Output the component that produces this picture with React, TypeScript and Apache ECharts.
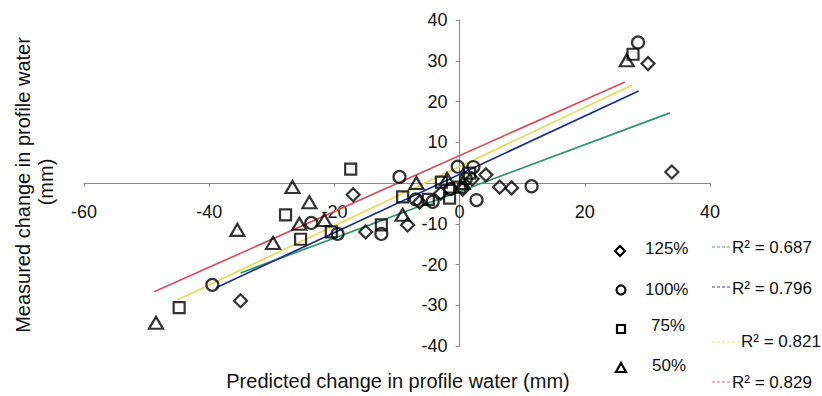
import React, { useEffect, useRef } from "react";
import * as echarts from "echarts";

const FONT = '"Liberation Sans", Arial, Helvetica, sans-serif';

// Predicted (x) vs measured (y) change in profile water, mm
const pct125: [number, number][] = [
  [33.9, 2.7], [30.1, 29.3], [-35.0, -28.9], [-17.0, -2.9], [-15.0, -12.0],
  [-8.3, -10.3], [-6.4, -4.7], [6.4, -1.0], [8.3, -1.2], [4.2, 2.0],
  [0.5, -1.5], [-3.0, -2.5], [2.0, 1.0],
];
const pct100: [number, number][] = [
  [28.5, 34.5], [-39.5, -25.0], [-9.6, 1.5], [11.5, -0.8], [2.7, -4.2],
  [-0.3, 4.0], [2.2, 3.9], [-23.7, -9.8], [-12.5, -12.5], [-4.3, -4.6],
  [-1.5, -1.5], [1.0, 1.0], [-19.5, -12.5], [-7.0, -4.0],
];
const pct75: [number, number][] = [
  [27.7, 31.6], [-44.8, -30.6], [-17.4, 3.4], [-27.8, -7.8], [-25.4, -13.8],
  [-12.5, -10.3], [-9.1, -3.4], [-2.9, 0.2], [-1.6, -3.7], [1.6, 2.4],
  [-5.0, -4.0], [0.0, -1.0], [-20.5, -12.0],
];
const pct50: [number, number][] = [
  [26.7, 30.1], [-48.5, -34.3], [-35.5, -11.5], [-26.7, -1.0], [-24.0, -4.7],
  [-29.8, -14.7], [-21.6, -9.1], [-25.6, -10.0], [-6.9, 0.0], [-9.1, -7.8],
  [-2.0, 1.0], [0.5, 0.0],
];

// Trendline end points
const trend125: [number, number][] = [[-35.0, -22.1], [33.6, 17.2]];
const trend100: [number, number][] = [[-38.9, -25.7], [28.6, 22.6]];
const trend75: [number, number][] = [[-45.1, -28.7], [27.5, 24.0]];
const trend50: [number, number][] = [[-48.8, -26.7], [26.4, 24.8]];

const seriesNames = ["125%", "100%", "75%", "50%"];
const r2Labels = ["R\u00B2 = 0.687", "R\u00B2 = 0.796", "R\u00B2 = 0.821", "R\u00B2 = 0.829"];
const trendColors = ["#2f9466", "#1c2f86", "#e4dc55", "#d9505c"];

const xTitle = "Predicted change in profile water (mm)";
const yTitle1 = "Measured change in profile water";
const yTitle2 = "(mm)";

const X_MIN = -60, X_MAX = 40, Y_MIN = -40, Y_MAX = 40;
const GRID = { left: 84, right: 112, top: 20, bottom: 50 };
const W = 822, H = 396;

export default function App() {
  const ref = useRef<HTMLDivElement>(null);

  useEffect(() => {
    if (!ref.current) return;
    const chart = echarts.init(ref.current, undefined, { renderer: "svg" });

    const gw = W - GRID.left - GRID.right;
    const gh = H - GRID.top - GRID.bottom;
    // move axes so they cross at the origin
    const xAxisOffset = -gh * (0 - Y_MIN) / (Y_MAX - Y_MIN);
    const yAxisOffset = -gw * (0 - X_MIN) / (X_MAX - X_MIN);

    const markerStyle = {
      color: "rgba(0,0,0,0)",
      borderColor: "#000",
      borderWidth: 2.2,
    };
    const scatter = (name: string, data: [number, number][], symbol: string, size: any) => ({
      name,
      type: "scatter",
      data,
      symbol,
      symbolSize: size,
      itemStyle: markerStyle,
      z: 3,
    });
    const trend = (name: string, data: [number, number][], color: string) => ({
      name,
      type: "line",
      data,
      showSymbol: false,
      symbol: "none",
      silent: true,
      lineStyle: { color, width: 1.7 },
      z: 2,
    });

    const ink = { stroke: "#000", lineWidth: 2.2, fill: "none" };
    const legendText = (text: string, x: number, y: number) => ({
      type: "text",
      x,
      y,
      style: {
        text,
        font: `17px ${FONT}`,
        fill: "#111",
        textAlign: "left",
        textVerticalAlign: "middle",
      },
    });
    const legendLine = (x1: number, x2: number, y: number, color: string) => ({
      type: "line",
      shape: { x1, y1: y, x2, y2: y },
      style: { stroke: color, lineWidth: 1.5, lineDash: [3, 2], opacity: 0.6 },
    });

    chart.setOption({
      animation: false,
      backgroundColor: "#fff",
      grid: { ...GRID, containLabel: false },
      xAxis: {
        type: "value",
        min: X_MIN,
        max: X_MAX,
        interval: 20,
        position: "bottom",
        offset: xAxisOffset,
        axisLine: { onZero: false, lineStyle: { color: "#8a8a8a", width: 1 } },
        axisTick: { show: true, length: 4, lineStyle: { color: "#8a8a8a" } },
        splitLine: { show: false },
        axisLabel: { fontSize: 18, color: "#111", fontFamily: FONT, margin: 20 },
      },
      yAxis: {
        type: "value",
        min: Y_MIN,
        max: Y_MAX,
        interval: 10,
        position: "left",
        offset: yAxisOffset,
        axisLine: { onZero: false, lineStyle: { color: "#8a8a8a", width: 1 } },
        axisTick: { show: true, length: 4, lineStyle: { color: "#8a8a8a" } },
        splitLine: { show: false },
        axisLabel: {
          fontSize: 18,
          color: "#111",
          fontFamily: FONT,
          margin: 12,
          formatter: (v: number) => (v === 0 ? "" : String(v)),
        },
      },
      series: [
        trend(r2Labels[0], trend125, trendColors[0]),
        trend(r2Labels[1], trend100, trendColors[1]),
        trend(r2Labels[2], trend75, trendColors[2]),
        trend(r2Labels[3], trend50, trendColors[3]),
        scatter(seriesNames[0], pct125, "diamond", 13),
        scatter(seriesNames[1], pct100, "circle", 12),
        scatter(seriesNames[2], pct75, "rect", 11),
        scatter(seriesNames[3], pct50, "triangle", [14, 12]),
      ],
      graphic: [
        {
          type: "text",
          x: 398,
          y: 381,
          style: {
            text: xTitle,
            font: `20px ${FONT}`,
            fill: "#111",
            textAlign: "center",
            textVerticalAlign: "middle",
          },
        },
        {
          type: "text",
          x: 23,
          y: 185,
          rotation: Math.PI / 2,
          style: {
            text: yTitle1,
            font: `20px ${FONT}`,
            fill: "#111",
            textAlign: "center",
            textVerticalAlign: "middle",
          },
        },
        {
          type: "text",
          x: 46,
          y: 182,
          rotation: Math.PI / 2,
          style: {
            text: yTitle2,
            font: `20px ${FONT}`,
            fill: "#111",
            textAlign: "center",
            textVerticalAlign: "middle",
          },
        },
        // legend icons for markers
        { type: "polygon", shape: { points: [[620, 246], [625, 251], [620, 256], [615, 251]] }, style: ink },
        { type: "circle", shape: { cx: 621, cy: 290, r: 4.5 }, style: ink },
        { type: "rect", shape: { x: 617, y: 325, width: 8, height: 8 }, style: ink },
        { type: "polygon", shape: { points: [[621, 363], [626, 372], [616, 372]] }, style: ink },
        legendText(seriesNames[0], 645, 248),
        legendText(seriesNames[1], 645, 289),
        legendText(seriesNames[2], 651, 325),
        legendText(seriesNames[3], 652, 365),
        // legend for trendlines
        legendLine(712, 731, 247, trendColors[0]),
        legendLine(712, 731, 287, trendColors[1]),
        legendLine(712, 740, 342, trendColors[2]),
        legendLine(712, 732, 382, trendColors[3]),
        legendText(r2Labels[0], 732, 247),
        legendText(r2Labels[1], 732, 288),
        legendText(r2Labels[2], 741, 341),
        legendText(r2Labels[3], 732, 382),
      ],
    });

    return () => chart.dispose();
  }, []);

  return (
    <div
      ref={ref}
      style={{ position: "fixed", left: 0, top: 0, width: W, height: H, background: "#fff" }}
    />
  );
}
